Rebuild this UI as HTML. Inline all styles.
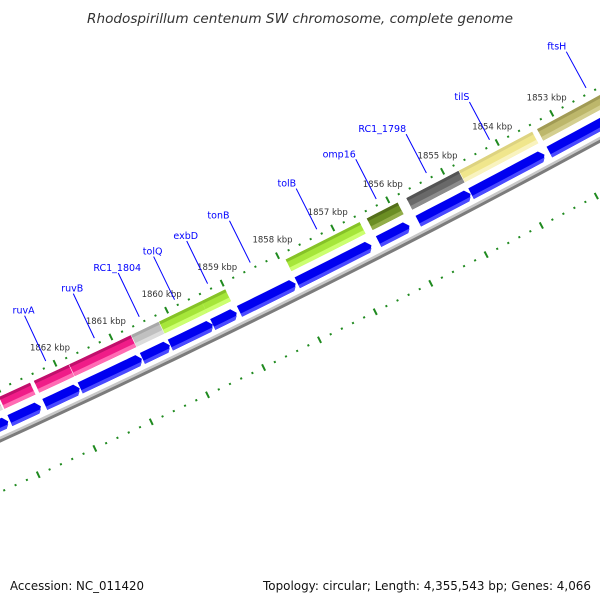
<!DOCTYPE html>
<html><head><meta charset="utf-8"><style>
html,body{margin:0;padding:0;background:#fff}
svg{display:block}
text{font-family:"DejaVu Sans","Liberation Sans",sans-serif}
</style></head><body>
<svg id="map" width="600" height="600" viewBox="0 0 600 600" xmlns="http://www.w3.org/2000/svg">
<rect width="600" height="600" fill="#fff"/>
<text x="300" y="23" text-anchor="middle" font-size="13" font-style="italic" fill="#333" textLength="426" lengthAdjust="spacingAndGlyphs">Rhodospirillum centenum SW chromosome, complete genome</text>
<g id="ticks"></g>
<g id="bars"></g>
<g id="arrows"></g>
<g id="backbone"></g>
<g id="labels"></g>
<text x="10" y="590" font-size="12" fill="#111" textLength="134" lengthAdjust="spacingAndGlyphs">Accession: NC_011420</text>
<text x="591" y="590" text-anchor="end" font-size="12" fill="#111" textLength="328" lengthAdjust="spacingAndGlyphs">Topology: circular; Length: 4,355,543 bp; Genes: 4,066</text>
</svg>
<script>
// ---- data ----
const geneNames = ["", "", "ruvA", "ruvB", "RC1_1804", "tolQ", "exbD", "tonB", "tolB", "omp16", "RC1_1798", "tilS", "ftsH"];
const geneStartKbp = [1864.2, 1863.05, 1862.43, 1861.80, 1860.69, 1860.19, 1859.43, 1858.95, 1857.91, 1856.44, 1855.72, 1854.76, 1853.33];
const geneEndKbp   = [1863.08, 1862.50, 1861.81, 1860.70, 1860.20, 1859.43, 1859.00, 1857.94, 1856.57, 1855.88, 1854.77, 1853.42, 1851.30];
const geneCategory = ["grey", "pink", "pink", "pink", "grey", "green", "green", "none", "green", "olive", "dim", "khaki", "dkhaki"];
const majorTicks = [1862, 1861, 1860, 1859, 1858, 1857, 1856, 1855, 1854, 1853];
const majorTickLabels = ["1862 kbp", "1861 kbp", "1860 kbp", "1859 kbp", "1858 kbp", "1857 kbp", "1856 kbp", "1855 kbp", "1854 kbp", "1853 kbp"];

// ---- styles ----
const palette = {
  pink:["#c0106c","#f01c88","#ff6cb4"], grey:["#a8a8a8","#c0c0c0","#dcdcdc"],
  green:["#86c228","#a6e63a","#ccff70"], olive:["#546f1a","#6b8e23","#92ad48"],
  dim:["#545454","#696969","#8c8c8c"], khaki:["#ddd381","#f0e68c","#f9f3bf"],
  dkhaki:["#a19b55","#bdb76b","#d4cf90"]
};

// ---- geometry (large circle arc) ----
const P1 = {x:55, y:363.3, k:1862}, P2 = {x:551.7, y:113.3, k:1853};
const R0 = 9700;
const mx=(P1.x+P2.x)/2, my=(P1.y+P2.y)/2;
const cdx=P2.x-P1.x, cdy=P2.y-P1.y, cl=Math.hypot(cdx,cdy);
const ux=cdx/cl, uy=cdy/cl;
const hh=Math.sqrt(R0*R0-(cl/2)*(cl/2));
const C={x:mx+uy*hh, y:my-ux*hh};
const t1=Math.atan2(P1.y-C.y,P1.x-C.x), t2=Math.atan2(P2.y-C.y,P2.x-C.x);
function theta(k){return t1+(k-P1.k)/(P2.k-P1.k)*(t2-t1);}
function pt(k,off){const t=theta(k), r=R0+off;return [C.x+r*Math.cos(t), C.y+r*Math.sin(t)];}
function arcPts(k1,k2,off){const n=Math.max(2,Math.ceil(Math.abs(k1-k2)*4));const a=[];for(let i=0;i<=n;i++){a.push(pt(k1+(k2-k1)*i/n,off));}return a;}
function poly(pts){return pts.map(p=>p[0].toFixed(2)+","+p[1].toFixed(2)).join(" ");}
const NS="http://www.w3.org/2000/svg";
function mk(tag,parent){const e=document.createElementNS(NS,tag);parent.appendChild(e);return e;}

// ---- ticks ----
const tg=document.getElementById("ticks");
[0,94].forEach(function(off,row){
  for(let i=0;i<=70;i++){
    const k=1865-i*0.2;
    const isMajor=Math.abs(k-Math.round(k))<0.01;
    const a=pt(k,off-(isMajor?3.5:1)), b=pt(k,off+(isMajor?3.5:1));
    const l=mk("line",tg);
    
    
    l.setAttribute("x1",a[0]);l.setAttribute("y1",a[1]);l.setAttribute("x2",b[0]);l.setAttribute("y2",b[1]);
    l.setAttribute("stroke","#1f8a1f");l.setAttribute("stroke-width","2");
  }
});
majorTicks.forEach(function(k,i){
  const p=pt(k,0);
  const t=mk("text",tg);
  
  
  t.setAttribute("x",p[0]-5);t.setAttribute("y",p[1]-13);
  t.setAttribute("text-anchor","middle");t.setAttribute("font-size","8.5");t.setAttribute("fill","#333");
  t.textContent=majorTickLabels[i];
});

// ---- feature bars ----
const bg=document.getElementById("bars");
const B1=7,B2=20;
geneNames.forEach(function(n,i){
  const cat=geneCategory[i]; if(cat==="none")return;
  const cols=palette[cat], s=geneStartKbp[i], e=geneEndKbp[i];
  const bands=[[B1,B2,cols[1]],[B1,B1+3,cols[0]],[B2-4,B2,cols[2]]];
  bands.forEach(function(bd,j){
    const p=mk("polygon",bg);
    
    
    p.setAttribute("points",poly(arcPts(s,e,bd[0]).concat(arcPts(e,s,bd[1]))));
    p.setAttribute("fill",bd[2]);
  });
});

// ---- gene arrows ----
const ag=document.getElementById("arrows");
const A1=27,A2=39,HEAD=0.07;
geneNames.forEach(function(n,i){
  const s=geneStartKbp[i], e=geneEndKbp[i];
  const pts=arcPts(s,e+HEAD,A1).concat([pt(e,(A1+A2)/2)]).concat(arcPts(e+HEAD,s,A2));
  const p=mk("polygon",ag);
  
  
  p.setAttribute("points",poly(pts));p.setAttribute("fill","#0000f0");
  const q=mk("polygon",ag);
  
  
  q.setAttribute("points",poly(arcPts(s,e+HEAD,A2-3.5).concat([pt(e+HEAD*0.25,A2-3.5)]).concat([pt(e+HEAD,A2)]).concat(arcPts(e+HEAD,s,A2))));
  q.setAttribute("fill","#4a4aff");
});

// ---- backbone ----
const bb=document.getElementById("backbone");
[[43.5,46,"#c8c8c8"],[46,49,"#7c7c7c"]].forEach(function(bd){
  const p=mk("polygon",bb);
  
  
  p.setAttribute("points",poly(arcPts(1865.5,1850.5,bd[0]).concat(arcPts(1850.5,1865.5,bd[1]))));
  p.setAttribute("fill",bd[2]);
});

// ---- labels ----
const lg=document.getElementById("labels");
geneNames.forEach(function(n,i){
  if(!n)return;
  const mid=(geneStartKbp[i]+geneEndKbp[i])/2;
  const len=50-(1862.1-mid)*0.9;
  const end=pt(mid,-6), start=pt(mid,-6-len);
  const l=mk("line",lg);
  
  
  l.setAttribute("x1",start[0]);l.setAttribute("y1",start[1]);l.setAttribute("x2",end[0]);l.setAttribute("y2",end[1]);
  l.setAttribute("stroke","#0000ff");l.setAttribute("stroke-width","1");
  const t=mk("text",lg);
  
  
  const endAnchor=mid<1858.7;
  t.setAttribute("x",endAnchor?start[0]:start[0]-1);t.setAttribute("y",start[1]-2);
  t.setAttribute("text-anchor",endAnchor?"end":"middle");
  t.setAttribute("font-size","9.5");t.setAttribute("fill","#0000ff");
  t.textContent=n;
});
</script>
</body></html>
